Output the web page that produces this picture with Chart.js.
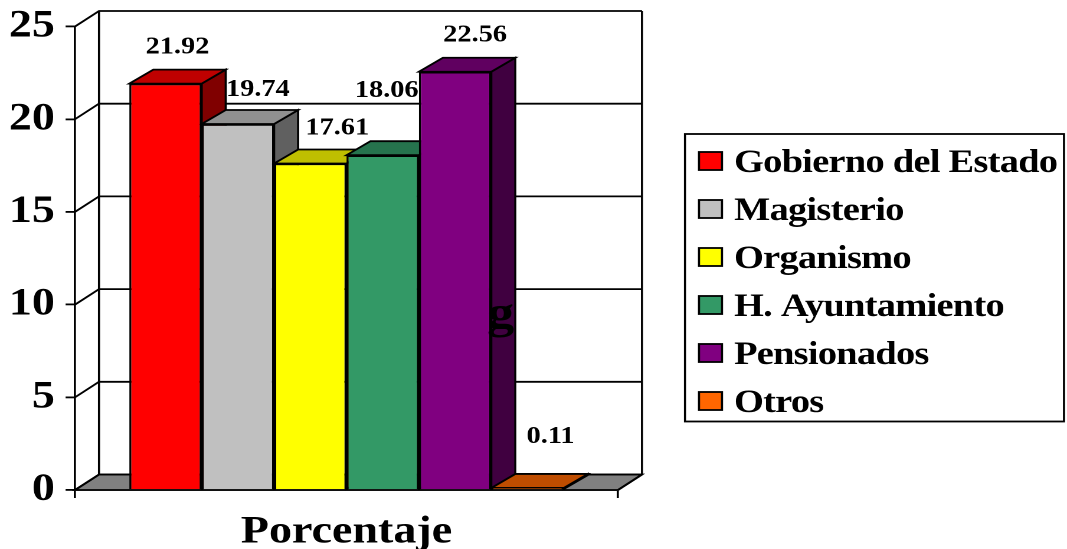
<!DOCTYPE html>
<html>
<head>
<meta charset="utf-8">
<title>Porcentaje</title>
<script src="https://cdn.jsdelivr.net/npm/chart.js@4"></script>
<style>
  html, body { margin: 0; padding: 0; background: #fff; overflow: hidden; }
  /* the reference is stretched sideways, so the whole canvas is too */
  #chart { display: block; transform-origin: 0 0; transform: scaleX(1.18031); }
</style>
</head>
<body>
<canvas id="chart" width="904" height="549"></canvas>
<script>
const categories = ['Porcentaje'];
const seriesNames = ['Gobierno del Estado', 'Magisterio', 'Organismo', 'H. Ayuntamiento', 'Pensionados', 'Otros'];
const seriesValues = [21.92, 19.74, 17.61, 18.06, 22.56, 0.11];
const seriesColors = ['#FF0000', '#C0C0C0', '#FFFF00', '#339966', '#800080', '#FF6600'];
const valueTicks = [0, 5, 10, 15, 20, 25];

const K = 1067 / 904;          // sideways stretch, reference px to canvas px
const FONT = '"Liberation Serif", "Times New Roman", serif';
const LINE = 1.8;
const BAR_DX = 24 / K, BAR_DY = 14;
const WALL_DX = 24 / K, WALL_DY = 15.5;

// label nudges from the bar's centre and top, in reference px
const labelNudge = [[12, -30], [20, -28], [27, -29], [4, -58], [20, -30], [23, -45]];

function shade(hex, f) {
  const n = parseInt(hex.slice(1), 16);
  const c = [n >> 16, (n >> 8) & 255, n & 255].map(v => Math.round(v * f));
  return `rgb(${c[0]},${c[1]},${c[2]})`;
}

function poly(ctx, pts, fill) {
  ctx.beginPath();
  pts.forEach((p, i) => (i ? ctx.lineTo(p[0], p[1]) : ctx.moveTo(p[0], p[1])));
  ctx.closePath();
  if (fill) {
    ctx.fillStyle = fill;
    ctx.fill();
  }
  ctx.stroke();
}

const box3d = {
  id: 'box3d',
  // walls, floor and the top and side of each bar go under the bar fronts
  beforeDatasetsDraw(chart) {
    const { ctx, scales: { x, y } } = chart;
    const l = x.left, r = x.right, base = y.getPixelForValue(0), top = y.getPixelForValue(25);
    ctx.save();
    ctx.strokeStyle = '#000';
    ctx.lineWidth = LINE;
    poly(ctx, [[l, base], [l + WALL_DX, base - WALL_DY], [r + WALL_DX, base - WALL_DY], [r, base]], '#808080');
    valueTicks.forEach(v => {
      const py = y.getPixelForValue(v);
      ctx.beginPath();
      ctx.moveTo(l, py);
      ctx.lineTo(l + WALL_DX, py - WALL_DY);
      ctx.lineTo(r + WALL_DX, py - WALL_DY);
      ctx.stroke();
    });
    ctx.beginPath();
    ctx.moveTo(l + WALL_DX, top - WALL_DY);
    ctx.lineTo(l + WALL_DX, base - WALL_DY);
    ctx.moveTo(r + WALL_DX, top - WALL_DY);
    ctx.lineTo(r + WALL_DX, base - WALL_DY);
    ctx.lineTo(r, base);
    ctx.stroke();

    seriesColors.forEach((color, i) => {
      const bar = chart.getDatasetMeta(i).data[0];
      const left = bar.x - bar.width / 2, right = bar.x + bar.width / 2;
      poly(ctx, [[right, bar.y], [right + BAR_DX, bar.y - BAR_DY], [right + BAR_DX, bar.base - BAR_DY], [right, bar.base]], shade(color, 0.5));
      poly(ctx, [[left, bar.y], [right, bar.y], [right + BAR_DX, bar.y - BAR_DY], [left + BAR_DX, bar.y - BAR_DY]], shade(color, 0.75));
    });
    ctx.restore();
  },
  afterDatasetsDraw(chart) {
    const { ctx } = chart;
    ctx.save();
    ctx.fillStyle = '#000';
    ctx.textBaseline = 'alphabetic';
    ctx.textAlign = 'center';
    ctx.font = `bold 24px ${FONT}`;
    seriesValues.forEach((v, i) => {
      const bar = chart.getDatasetMeta(i).data[0];
      ctx.fillText(v.toFixed(2), bar.x + labelNudge[i][0] / K, bar.y + labelNudge[i][1]);
    });
    // stray letter that sits on the purple bar in the reference
    ctx.textAlign = 'left';
    ctx.font = `bold 46px ${FONT}`;
    ctx.fillText('g', 487 / K, 328);
    ctx.restore();
  },
  afterDraw(chart) {
    const { ctx } = chart;
    const left = 685 / K, top = 134, w = 379 / K, h = 287.5;
    ctx.save();
    ctx.strokeStyle = '#000';
    ctx.lineWidth = LINE;
    ctx.strokeRect(left, top, w, h);
    ctx.font = `bold 32.5px ${FONT}`;
    ctx.letterSpacing = '-0.6px';
    ctx.textAlign = 'left';
    ctx.textBaseline = 'alphabetic';
    chart.data.datasets.forEach((ds, i) => {
      const rowY = 152 + i * 48;
      ctx.fillStyle = ds.backgroundColor;
      ctx.fillRect(699 / K, rowY, 23 / K, 18);
      ctx.strokeRect(699 / K, rowY, 23 / K, 18);
      ctx.fillStyle = '#000';
      ctx.fillText(ds.label, 734 / K, rowY + 20);
    });
    ctx.restore();
  }
};

new Chart(document.getElementById('chart'), {
  type: 'bar',
  plugins: [box3d],
  data: {
    labels: categories,
    datasets: seriesNames.map((name, i) => ({
      label: name,
      data: [seriesValues[i]],
      backgroundColor: seriesColors[i],
      borderColor: '#000',
      borderWidth: LINE,
      categoryPercentage: 0.8,
      barPercentage: 1
    }))
  },
  options: {
    responsive: false,
    animation: false,
    devicePixelRatio: 2,
    layout: { padding: { top: 26.5, right: 904 - 618 / K, bottom: 0, left: 0 } },
    plugins: { legend: { display: false }, tooltip: { enabled: false } },
    scales: {
      x: {
        afterFit(scale) { scale.height = 59; },
        grid: { drawOnChartArea: false, color: '#000', lineWidth: LINE, tickLength: 8 },
        border: { color: '#000', width: LINE },
        ticks: { color: '#000', padding: 11, font: { family: FONT, size: 39, weight: 'bold' } }
      },
      y: {
        min: 0,
        max: 25,
        afterFit(scale) {
          scale.width = 75 / K;
          // the big tick labels would otherwise push the plot down
          scale.paddingTop = 0;
          scale.paddingBottom = 0;
        },
        grid: { drawOnChartArea: false, color: '#000', lineWidth: LINE, tickLength: 8 },
        border: { color: '#000', width: LINE },
        ticks: { stepSize: 5, color: '#000', padding: 9, font: { family: FONT, size: 39, weight: 'bold' } }
      }
    }
  }
});
</script>
</body>
</html>
